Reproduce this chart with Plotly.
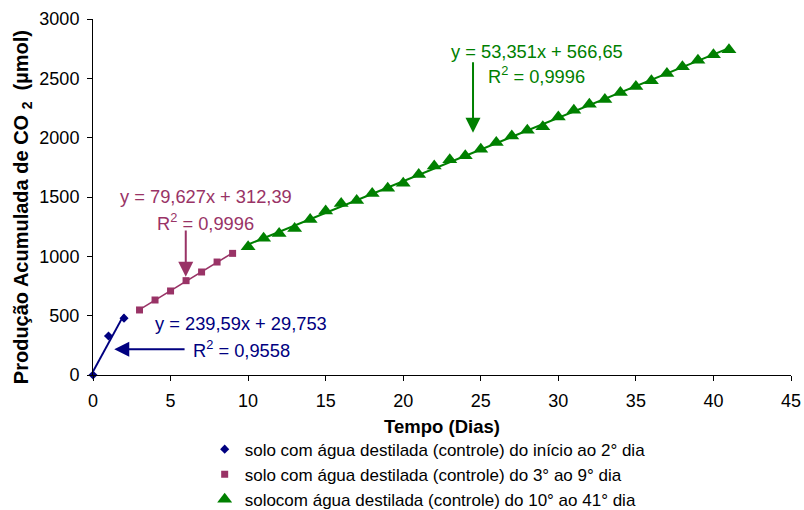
import plotly.graph_objects as go

# Cumulative CO2 production (µmol) per day, three incubation phases
dias_a = [0, 1, 2]
co2_a = [0, 329, 479]

dias_b = [3, 4, 5, 6, 7, 8, 9]
co2_b = [548, 632, 708, 795, 868, 952, 1025]

dias_c = list(range(10, 42))
co2_c = [1080, 1153, 1193, 1235, 1311, 1383, 1445, 1470, 1530, 1574,
         1616, 1690, 1762, 1813, 1847, 1903, 1959, 2015, 2063, 2091,
         2175, 2232, 2282, 2321, 2381, 2431, 2479, 2541, 2597, 2653,
         2698, 2740]

# Linear trendlines (slope, intercept, R²)
fit_a = (239.59, 29.753, 0.9558)
fit_b = (79.627, 312.39, 0.9996)
fit_c = (53.351, 566.65, 0.9996)

legend_names = [
    "solo com água destilada (controle) do início ao 2° dia",
    "solo com água destilada (controle) do 3° ao 9° dia",
    "solocom água destilada (controle) do 10° ao 41° dia",
]

x_title = "Tempo (Dias)"
y_title = "Produção Acumulada de CO <sub>2</sub>  (µmol)"

BLUE = "#000080"
PLUM = "#993366"
GREEN = "#008000"
FONT = "Liberation Sans, Arial, sans-serif"


def dec(v):
    return str(v).replace(".", ",")


def eq_text(fit):
    return f"y = {dec(fit[0])}x + {dec(fit[1])}"


def r2_text(fit):
    return f"R<sup>2</sup> = {dec(fit[2])}"


fig = go.Figure()

series = [
    (dias_a, co2_a, fit_a, BLUE, "diamond", 7, 2),
    (dias_b, co2_b, fit_b, PLUM, "square", 7, 1.6),
    (dias_c, co2_c, fit_c, GREEN, "triangle-up", 13, 2),
]

# trendlines
for xs, ys, fit, col, sym, size, lw in series:
    x_line = [min(xs), max(xs)]
    y_line = [fit[0] * x + fit[1] for x in x_line]
    fig.add_trace(go.Scatter(x=x_line, y=y_line, mode="lines",
                             line=dict(color=col, width=lw),
                             showlegend=False, hoverinfo="skip",
                             cliponaxis=False))

# observed points
for (xs, ys, fit, col, sym, size, lw), name in zip(series, legend_names):
    fig.add_trace(go.Scatter(x=xs, y=ys, mode="markers", name=name,
                             marker=dict(symbol=sym, size=size, color=col,
                                         line=dict(width=0)),
                             cliponaxis=False))

ann = []
# equation and R² labels
for fit, col, (x, y_eq, y_r2) in [
    (fit_a, BLUE, (9.57, 436, 217)),
    (fit_b, PLUM, (7.28, 1502, 1292)),
    (fit_c, GREEN, (28.6, 2724, 2528)),
]:
    ann.append(dict(x=x, y=y_eq, xref="x", yref="y", text=eq_text(fit),
                    showarrow=False, font=dict(color=col, size=18.3)))
    ann.append(dict(x=x, y=y_r2, xref="x", yref="y", text=r2_text(fit),
                    showarrow=False, font=dict(color=col, size=18.3)))

# arrows pointing at each trendline
for col, tip, tail in [
    (BLUE, (1.37, 217), (6.0, 217)),
    (PLUM, (5.98, 828), (5.98, 1230)),
    (GREEN, (24.5, 2042), (24.5, 2648)),
]:
    ann.append(dict(x=tip[0], y=tip[1], ax=tail[0], ay=tail[1],
                    xref="x", yref="y", axref="x", ayref="y", text="",
                    showarrow=True, arrowhead=2, arrowsize=1.5,
                    arrowwidth=2, arrowcolor=col, standoff=0))

# vertical axis title
ann.append(dict(x=-0.1, y=0.472, xref="paper", yref="paper",
                xanchor="center", yanchor="middle", textangle=-90,
                text=f"<b>{y_title}</b>", showarrow=False,
                font=dict(size=20, color="black")))

fig.update_layout(
    width=804, height=510,
    margin=dict(l=93, r=13, t=19, b=135, autoexpand=False),
    paper_bgcolor="white", plot_bgcolor="white",
    font=dict(family=FONT, size=18, color="black"),
    annotations=ann,
    legend=dict(x=0.16, y=-0.159, xanchor="left", yanchor="top",
                font=dict(size=17, color="black"),
                bgcolor="rgba(0,0,0,0)", tracegroupgap=0),
    xaxis=dict(range=[0, 45], dtick=5, tick0=0, showline=True,
               linecolor="black", linewidth=1, ticks="outside", ticklen=5,
               tickcolor="black", showgrid=False, zeroline=False,
               ticklabelstandoff=4, tickfont=dict(size=18),
               title=dict(text=f"<b>{x_title}</b>", standoff=10,
                          font=dict(size=18.5))),
    yaxis=dict(range=[0, 3000], dtick=500, tick0=0, showline=True,
               linecolor="black", linewidth=1, ticks="outside", ticklen=5,
               tickcolor="black", showgrid=False, zeroline=False,
               ticklabelstandoff=4, tickfont=dict(size=18)),
)

fig.write_html("out.html")
